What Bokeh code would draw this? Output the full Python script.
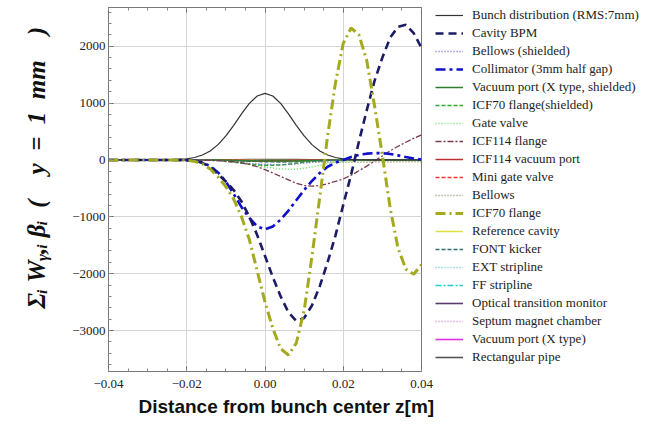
import numpy as np
from bokeh.plotting import figure
from bokeh.models import (Range1d, LinearAxis, SingleIntervalTicker, CustomJSTickFormatter,
                          Legend, LegendItem, Title)
from bokeh.embed import file_html
from bokeh.resources import INLINE

# ---------------- data ----------------
Z = np.linspace(-0.04, 0.04, 41)    # fine grid, step 0.002 m
ZC = np.linspace(-0.04, 0.04, 21)   # coarse grid, step 0.004 m

bunch = [0, 0, 0, 0, 0, 0, 0, 1, 3, 8, 20, 43, 86, 158, 269, 422, 609, 810, 994, 1123,
         1170, 1123, 994, 810, 609, 422, 269, 158, 86, 43, 20, 8, 3, 1, 0, 0, 0, 0, 0, 0, 0]
cavity_bpm = [0, 0, 0, 0, 0, 0, 0, 0, 0, -2, -8, -20, -50, -130, -250, -380, -530, -730, -1000,
              -1320, -1690, -2060, -2400, -2680, -2830, -2780, -2560, -2220, -1800, -1330, -790,
              -260, 320, 870, 1390, 1800, 2150, 2340, 2375, 2230, 1970]
icf70 = [0, 0, 0, 0, 0, 0, 0, 0, 0, -2, -8, -25, -70, -160, -300, -470, -690, -1000, -1400,
         -1950, -2500, -2960, -3320, -3430, -3220, -2650, -1700, -650, 420, 1350, 2050,
         2320, 2200, 1750, 950, 80, -850, -1550, -1920, -2010, -1840]
collimator = [0, 0, 0, 0, 0, 0, 0, 0, 0, 0, -5, -15, -45, -110, -220, -380, -600, -830, -1020,
              -1170, -1220, -1170, -1050, -890, -710, -530, -370, -230, -120, -50, 0,
              50, 90, 110, 120, 120, 105, 80, 50, 25, 5]
icf114_flange = [0, 0, 0, 0, 0, 0, 0, 0, 0, 0, 0, 0, -2, -6, -12, -20, -32, -50, -80, -120,
                 -170, -230, -290, -350, -410, -450, -462, -450, -418, -378, -335,
                 -270, -190, -110, -20, 70, 160, 240, 310, 380, 440]

bellows_shielded = [0, 0, 0, 0, 0, 0, -3, -10, -30, -60, -80, -85, -70, -40, -15, -3, 0, 0, 0, 0, 0]
vacport_x_shielded = [0, 0, 0, 0, 0, 0, -1, -3, -8, -14, -18, -18, -14, -8, -4, -1, 0, 0, 0, 0, 0]
icf70_shielded = [0, 0, 0, 0, 0, 0, -2, -12, -40, -75, -95, -90, -60, -25, -5, -1, 0, 0, 0, 0, 0]
gate_valve = [0, 0, 0, 0, 0, 0, -1, -8, -30, -75, -125, -160, -165, -125, -65, -20, -2, 0, 0, 0, 0]
icf114_vacport = [0, 0, 0, 0, 0, 0, 0, -2, -6, -12, -16, -15, -10, -5, -2, 0, 0, 0, 0, 0, 0]
mini_gate_valve = [0, 0, 0, 0, 0, 0, 0, -2, -5, -10, -14, -14, -10, -6, -3, -1, 0, 0, 0, 0, 0]
bellows = [0, 0, 0, 0, 0, 0, 0, 0, -1, -3, -5, -15, -28, -38, -42, -42, -40, -38, -35, -32, -30]
reference_cavity = [0, 0, 0, 0, 0, 0, 0, -1, -3, -6, -9, -11, -12, -12, -12, -12, -12, -12, -12, -12, -12]
font_kicker = [0, 0, 0, 0, 0, 0, 0, -3, -10, -22, -32, -35, -30, -20, -10, -4, -1, 0, 0, 0, 0]
ext_stripline = [0, 0, 0, 0, 0, 0, 0, -2, -8, -18, -28, -32, -28, -18, -9, -3, -1, 0, 0, 0, 0]
ff_stripline = [0, 0, 0, 0, 0, 0, 0, -2, -6, -14, -22, -25, -22, -14, -7, -2, 0, 0, 0, 0, 0]
otm = [0, 0, 0, 0, 0, 0, 0, -1, -4, -9, -13, -14, -12, -8, -4, -1, 0, 0, 0, 0, 0]
septum = [0, 0, 0, 0, 0, 0, 0, -2, -7, -16, -24, -26, -22, -14, -6, -2, 0, 0, 0, 0, 0]
vacport_x = [0, 0, 0, 0, 0, 0, 0, -1, -4, -10, -16, -18, -15, -9, -4, -1, 0, 0, 0, 0, 0]
rect_pipe = [0, 0, 0, 0, 0, 0, 0, 1, 3, 5, 6, 6, 5, 3, 1, 0, 0, 0, 0, 0, 0]

# (legend label, grid, values, colour, width, dash)
series = [
    ("Bunch distribution (RMS:7mm)", Z, bunch, "#333333", 1.2, "solid"),
    ("Cavity BPM", Z, cavity_bpm, "#1c1c66", 2.6, "8 5"),
    ("Bellows (shielded)", ZC, bellows_shielded, "#6a6ad0", 1.5, "1 2"),
    ("Collimator (3mm half gap)", Z, collimator, "#1010cc", 2.6, "10 4 3 4"),
    ("Vacuum port (X type, shielded)", ZC, vacport_x_shielded, "#2e7d2e", 1.5, "solid"),
    ("ICF70 flange(shielded)", ZC, icf70_shielded, "#2eaa2e", 1.5, "4 2"),
    ("Gate valve", ZC, gate_valve, "#66dd66", 1.5, "1 2"),
    ("ICF114 flange", Z, icf114_flange, "#7a3a4a", 1.3, "6 2 2 2"),
    ("ICF114 vacuum port", ZC, icf114_vacport, "#c03030", 1.5, "solid"),
    ("Mini gate valve", ZC, mini_gate_valve, "#ff3333", 1.5, "4 2"),
    ("Bellows", ZC, bellows, "#8f8f66", 1.5, "1 2"),
    ("ICF70 flange", Z, icf70, "#a3aa1e", 3, "10 4 2 4"),
    ("Reference cavity", ZC, reference_cavity, "#e0e040", 1.5, "solid"),
    ("FONT kicker", ZC, font_kicker, "#2f6f6f", 1.5, "4 2"),
    ("EXT stripline", ZC, ext_stripline, "#5cc6c6", 1.5, "1 2"),
    ("FF stripline", ZC, ff_stripline, "#22cccc", 1.5, "6 2 2 2"),
    ("Optical transition monitor", ZC, otm, "#5a3a6a", 1.6, "solid"),
    ("Septum magnet chamber", ZC, septum, "#d080d0", 1.5, "1 2"),
    ("Vacuum port (X type)", ZC, vacport_x, "#e030e0", 1.6, "solid"),
    ("Rectangular pipe", ZC, rect_pipe, "#555555", 1.6, "solid"),
]

EN = "\u2002"
EM = "\u2003"
Y_TITLE = ("\u03a3\u1d62\u00a0W\u1d67,\u1d62\u00a0\u03b2\u1d62" + EN + "(" + EM + "y" + EN + "="
           + EN + "1" + EN + "mm" + EM + ")")
X_TITLE = "Distance from bunch center z[m]"

# ---------------- figure ----------------
p = figure(frame_width=313, frame_height=364, x_range=Range1d(-0.04, 0.04),
           y_range=Range1d(-3720, 2680),
           output_backend="svg", toolbar_location=None,
           min_border_left=0, min_border_right=0, min_border_top=7, min_border_bottom=0)
p.background_fill_color = "white"
p.outline_line_color = "#777777"
p.outline_line_width = 1

xtick_fmt = CustomJSTickFormatter(code="""
const t = Math.abs(tick) < 1e-9 ? 0 : tick;
return t.toFixed(2).replace('-', '\\u2212');
""")
ytick_fmt = CustomJSTickFormatter(code="""
const t = Math.round(tick);
return String(t).replace('-', '\\u2212');
""")

def style_axis(ax):
    ax.axis_line_color = None
    ax.major_tick_in = 5
    ax.major_tick_out = 0
    ax.minor_tick_in = 3
    ax.minor_tick_out = 0
    ax.major_tick_line_color = "#666666"
    ax.minor_tick_line_color = "#888888"
    ax.major_label_text_font = "Liberation Serif"
    ax.major_label_text_font_size = "13px"
    ax.major_label_text_color = "#222222"

xt = SingleIntervalTicker(interval=0.02, num_minor_ticks=4)
yt = SingleIntervalTicker(interval=1000, num_minor_ticks=5)

p.xaxis.ticker = xt
p.yaxis.ticker = yt
p.xaxis.formatter = xtick_fmt
p.yaxis.formatter = ytick_fmt
style_axis(p.xaxis[0])
style_axis(p.yaxis[0])
p.xaxis.major_label_standoff = 8
p.yaxis.major_label_standoff = 3

# frame ticks on the top side (labels hidden)
top_ax = LinearAxis(ticker=SingleIntervalTicker(interval=0.02, num_minor_ticks=4))
style_axis(top_ax)
top_ax.major_label_text_font_size = "2px"
top_ax.major_label_text_alpha = 0
top_ax.major_label_standoff = 0
p.add_layout(top_ax, "above")

p.xgrid.ticker = xt
p.ygrid.ticker = yt
p.grid.grid_line_color = "#d4d4d4"
p.grid.grid_line_width = 1

# draw small curves first, large ones on top
draw_order = [19, 18, 17, 16, 15, 14, 13, 12, 10, 9, 8, 6, 5, 4, 2, 7, 0, 3, 1, 11]
renderers = {}
for idx in draw_order:
    label, grid, vals, color, width, dash = series[idx]
    r = p.line(grid, vals, line_color=color, line_width=width, line_dash=dash)
    renderers[idx] = r

items = [LegendItem(label=series[i][0], renderers=[renderers[i]]) for i in range(len(series))]
legend = Legend(items=items, location=(14, 5), orientation="vertical", margin=0, padding=0,
                spacing=0, glyph_width=28, glyph_height=18, label_height=18, label_standoff=9,
                label_text_font="Liberation Serif", label_text_font_size="13px",
                label_text_color="#222222",
                border_line_alpha=0, background_fill_alpha=0)
p.add_layout(legend, "right")

# ---------------- axis titles ----------------
xtitle = Title(text=X_TITLE, align="left", offset=30, text_font="Liberation Sans",
               text_font_size="19px", text_font_style="bold", text_color="#111111", standoff=7)
p.add_layout(xtitle, "below")
ytitle = Title(text=Y_TITLE, align="left", offset=63, text_font="Liberation Serif",
               text_font_size="25px", text_font_style="bold italic", text_color="#111111",
               standoff=40)
p.add_layout(ytitle, "left")

open("out.html", "w").write(file_html(p, INLINE))
